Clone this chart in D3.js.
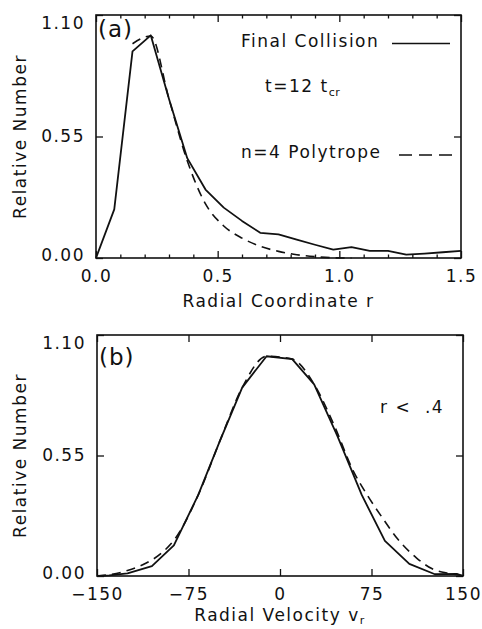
<!DOCTYPE html>
<html><head><meta charset="utf-8">
<script src="https://cdn.jsdelivr.net/npm/d3@7"></script>
<style>
body{margin:0;background:#fff}
text{font-family:"DejaVu Sans",sans-serif;fill:#111}
</style>
</head><body>
<svg id="c" width="482" height="629"></svg>
<script>
// ---------- data ----------
const rBins = [0, 0.075, 0.15, 0.225, 0.3, 0.375, 0.45, 0.525, 0.6, 0.675, 0.75, 0.825, 0.9, 0.975, 1.05, 1.125, 1.2, 1.275, 1.35, 1.425, 1.5];
const finalCollisionA = [0, 0.22, 0.935, 1.008, 0.72, 0.452, 0.31, 0.228, 0.168, 0.114, 0.107, 0.083, 0.06, 0.038, 0.049, 0.032, 0.032, 0.015, 0.02, 0.026, 0.032];
const polyR = [0.15, 0.225, 0.3, 0.375, 0.45, 0.525, 0.6, 0.675, 0.75, 0.825, 0.9, 0.975, 1.05];
const polytropeA = [0.97, 1.005, 0.72, 0.44, 0.245, 0.145, 0.09, 0.053, 0.03, 0.015, 0.006, 0.001, 0];

const vBins = [-150, -140, -125, -105, -87, -67, -49, -31, -11, 10, 28, 47, 67, 86, 106, 127, 145, 150];
const finalCollisionB = [0, 0.003, 0.012, 0.045, 0.14, 0.37, 0.62, 0.86, 1.003, 0.99, 0.875, 0.64, 0.37, 0.16, 0.055, 0.008, 0.01, 0];
const polyV = [-150, -140, -125, -110, -97, -86, -67, -49, -31, -11, 10, 28, 45, 60, 72, 84, 97, 112, 124, 138, 150];
const polytropeB = [0, 0.006, 0.025, 0.058, 0.105, 0.17, 0.37, 0.62, 0.86, 1.003, 0.99, 0.875, 0.68, 0.48, 0.365, 0.265, 0.165, 0.082, 0.035, 0.012, 0.002];

const yTicks = [0, 0.55, 1.10];
const yTickLabels = ["0.00", "0.55", "1.10"];
const xTicksA = [0, 0.5, 1.0, 1.5];
const xTickLabelsA = ["0.0", "0.5", "1.0", "1.5"];
const xMinorA = [0.1, 0.2, 0.3, 0.4, 0.6, 0.7, 0.8, 0.9, 1.1, 1.2, 1.3, 1.4];
const xTicksB = [-150, -75, 0, 75, 150];
const xTickLabelsB = ["\u2212150", "\u221275", "0", "75", "150"];

// ---------- drawing ----------
const svg = d3.select("#c");
svg.append("rect").attr("width", 482).attr("height", 629).attr("fill", "#fff");

function panel(cfg) {
  const x = d3.scaleLinear().domain(cfg.xDomain).range([cfg.left, cfg.right]);
  const y = d3.scaleLinear().domain([0, 1.1]).range([cfg.bottom, cfg.top]);
  const g = svg.append("g");

  const fmtX = d => cfg.xLabels[cfg.xTicks.indexOf(d)];
  const fmtY = d => yTickLabels[yTicks.indexOf(d)];

  g.append("g").attr("transform", `translate(0,${cfg.bottom})`)
    .call(d3.axisBottom(x).tickValues(cfg.xTicks).tickFormat(fmtX).tickSize(-7).tickSizeOuter(0).tickPadding(12));
  g.append("g").attr("transform", `translate(0,${cfg.top})`)
    .call(d3.axisTop(x).tickValues(cfg.xTicks).tickFormat("").tickSize(-7).tickSizeOuter(0));
  if (cfg.xMinor) {
    g.append("g").attr("transform", `translate(0,${cfg.bottom})`)
      .call(d3.axisBottom(x).tickValues(cfg.xMinor).tickFormat("").tickSize(-3.5).tickSizeOuter(0));
    g.append("g").attr("transform", `translate(0,${cfg.top})`)
      .call(d3.axisTop(x).tickValues(cfg.xMinor).tickFormat("").tickSize(-3.5).tickSizeOuter(0));
  }
  const gl = g.append("g").attr("transform", `translate(${cfg.left},0)`)
    .call(d3.axisLeft(y).tickValues(yTicks).tickFormat(fmtY).tickSize(-7).tickSizeOuter(0).tickPadding(11));
  g.append("g").attr("transform", `translate(${cfg.right},0)`)
    .call(d3.axisRight(y).tickValues(yTicks).tickFormat("").tickSize(-7).tickSizeOuter(0));

  g.selectAll(".domain").remove();
  g.selectAll(".tick line").attr("stroke", "#111").attr("stroke-width", 1.3);
  g.selectAll(".tick text").attr("font-family", "DejaVu Sans, sans-serif").attr("font-size", 17)
    .attr("letter-spacing", "1.5px").attr("fill", "#111");
  gl.selectAll(".tick text").attr("transform", d => d === 1.1 ? "translate(0,8)" : d === 0 ? "translate(0,-2.5)" : null);

  g.append("rect").attr("x", cfg.left).attr("y", cfg.top)
    .attr("width", cfg.right - cfg.left).attr("height", cfg.bottom - cfg.top)
    .attr("fill", "none").attr("stroke", "#111").attr("stroke-width", 1.6);

  g.append("path").datum(d3.zip(cfg.solidX, cfg.solidY))
    .attr("d", d3.line().x(d => x(d[0])).y(d => y(d[1])).curve(d3.curveLinear))
    .attr("fill", "none").attr("stroke", "#111")
    .attr("stroke-width", 1.8).attr("stroke-linejoin", "round");
  g.append("path").datum(d3.zip(cfg.dashX, cfg.dashY))
    .attr("d", d3.line().x(d => x(d[0])).y(d => y(d[1])).curve(d3.curveMonotoneX))
    .attr("fill", "none").attr("stroke", "#111").attr("stroke-width", 1.6)
    .attr("stroke-dasharray", "9,6");

  const xt = g.append("text").attr("x", (cfg.left + cfg.right) / 2).attr("y", cfg.xTitleY)
    .attr("text-anchor", "middle").attr("font-size", 17).attr("letter-spacing", "1.5px")
    .text(cfg.xTitle);
  if (cfg.xSub) xt.append("tspan").attr("font-size", 11).attr("dy", 3).text(cfg.xSub);
  g.append("text").attr("transform", `translate(${cfg.yTitleX},${(cfg.top + cfg.bottom) / 2}) rotate(-90)`)
    .attr("text-anchor", "middle").attr("font-size", 17).attr("letter-spacing", "1.5px")
    .text("Relative Number");
  g.append("text").attr("x", cfg.left + 2).attr("y", cfg.top + cfg.tagDy)
    .attr("font-size", 23).attr("letter-spacing", "1px").text(cfg.tag);
  return {g, x, y};
}

const A = panel({
  xDomain: [0, 1.5], left: 96, right: 461, top: 15, bottom: 258,
  xTicks: xTicksA, xLabels: xTickLabelsA, xMinor: xMinorA,
  solidX: rBins, solidY: finalCollisionA, dashX: polyR, dashY: polytropeA,
  xTitle: "Radial Coordinate r", xTitleY: 307, yTitleX: 26, tag: "(a)", tagDy: 22
});
const B = panel({
  xDomain: [-150, 150], left: 97, right: 463, top: 335, bottom: 576,
  xTicks: xTicksB, xLabels: xTickLabelsB, xMinor: null,
  solidX: vBins, solidY: finalCollisionB, dashX: polyV, dashY: polytropeB,
  xTitle: "Radial Velocity v", xSub: "r", xTitleY: 621, yTitleX: 26, tag: "(b)", tagDy: 30
});

const ta = A.g;
ta.append("text").attr("x", 241).attr("y", 47).attr("font-size", 17).attr("letter-spacing", "1.5px").text("Final Collision");
ta.append("line").attr("x1", 392).attr("x2", 450).attr("y1", 43.5).attr("y2", 43.5).attr("stroke", "#111").attr("stroke-width", 1.6);
const tcr = ta.append("text").attr("x", 265).attr("y", 92).attr("font-size", 17).attr("letter-spacing", "1.5px").text("t=12 t");
tcr.append("tspan").attr("font-size", 11).attr("dy", 4).attr("letter-spacing", "0.5px").text("cr");
ta.append("text").attr("x", 241).attr("y", 158).attr("font-size", 17).attr("letter-spacing", "1.5px").text("n=4 Polytrope");
ta.append("line").attr("x1", 399).attr("x2", 456).attr("y1", 155).attr("y2", 155).attr("stroke", "#111").attr("stroke-width", 1.6).attr("stroke-dasharray", "13,7");

B.g.append("text").attr("x", 380).attr("y", 413).attr("font-size", 17).attr("letter-spacing", "1.5px").attr("xml:space", "preserve").text("r <  .4");
</script>
</body></html>
